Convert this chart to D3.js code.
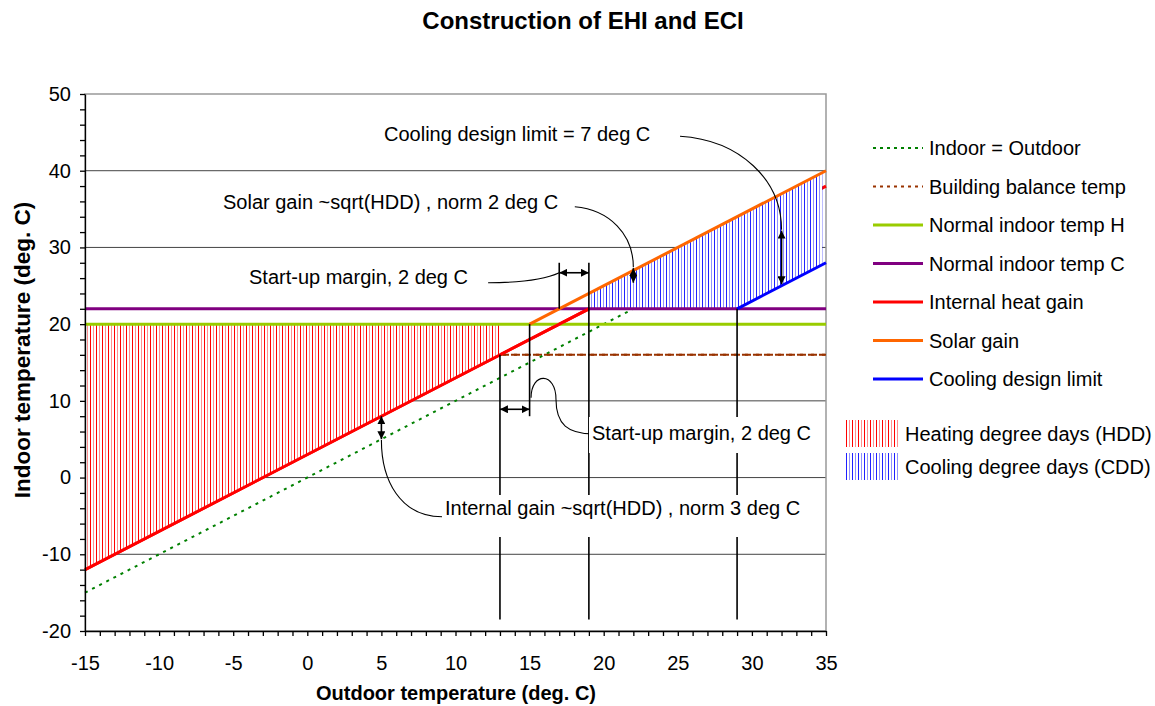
<!DOCTYPE html>
<html>
<head>
<meta charset="utf-8">
<script src="https://cdn.jsdelivr.net/npm/d3@7"></script>
<style>
  body { margin: 0; background: #fff; }
  svg { display: block; }
  text { font-family: "Liberation Sans", Arial, sans-serif; fill: #000; }
</style>
</head>
<body>
<svg id="chart" width="1155" height="706"></svg>
<script>
// ---- tick labels ----
const xTickLabels = [-15, -10, -5, 0, 5, 10, 15, 20, 25, 30, 35];
const yTickLabels = [-20, -10, 0, 10, 20, 30, 40, 50];

// ---- line series: outdoor temperature -> indoor temperature (deg C) ----
const identityX = [-15, 22],      identityY = [-15, 22];      // Indoor = Outdoor
const balanceX  = [-15, 35],      balanceY  = [16, 16];       // Building balance temp
const heatNormX = [-15, 35],      heatNormY = [20, 20];       // Normal indoor temp H
const coolNormX = [-15, 35],      coolNormY = [22, 22];       // Normal indoor temp C
const internalX = [-15, 19, 35],  internalY = [-12, 22, 38];  // Internal heat gain
const solarX    = [15, 35],       solarY    = [20, 40];       // Solar gain
const limitX    = [29, 35],       limitY    = [22, 28];       // Cooling design limit

// ---- hatched degree-day areas ----
const hddX = [-15, 13],          hddTop = [20, 20],          hddBottom = [-12, 16];
const cddX = [19, 29, 34.75],    cddTop = [24, 34, 39.75],   cddBottom = [22, 22, 27.75];

// ---- vertical guide lines ----
const guideX    = [13, 15, 17, 19, 29];
const guideFrom = [16, 20, 28, 28, 22];
const guideTo   = [-18.5, 8, 22, -18.5, -18.5];

// ---- dimension arrows (double headed) ----
const arrowX1 = [17, 13, 5, 22, 32];
const arrowY1 = [26.7, 8.9, 8, 27.3, 32.2];
const arrowX2 = [19, 15, 5, 22, 32];
const arrowY2 = [26.7, 8.9, 5, 25.4, 25.2];

// ---- leader curves (cubic segments, data units) ----
const leaders = [
  [[25.15, 44.5], [29.2, 44.0], [32.0, 38.8], [32.0, 32.3]],
  [[18.05, 35.3], [20.4, 34.9], [22.0, 31.7], [22.0, 27.4]],
  [[12.2, 25.4], [14.35, 25.4], [16.0, 25.8], [17.0, 26.7]],
  [[15.1, 10.4], [15.1, 13.8], [16.78, 13.8], [16.78, 10.2], [16.78, 6.9], [17.6, 5.7], [19.3, 5.7]],
  [[5.0, 4.9], [5.0, -0.3], [6.25, -5.1], [9.1, -5.1]]
];

// ---- legend ----
const legendNames  = ["Indoor = Outdoor", "Building balance temp", "Normal indoor temp H",
                      "Normal indoor temp C", "Internal heat gain", "Solar gain", "Cooling design limit"];
const legendColors = ["#008000", "#993300", "#99CC00", "#800080", "#FF0000", "#FF6600", "#0000FF"];
const legendDash   = ["3,4", "3,4", null, null, null, null, null];
const areaNames    = ["Heating degree days (HDD)", "Cooling degree days (CDD)"];

const svg = d3.select("#chart");
const x = d3.scaleLinear().domain([-15, 35]).range([85, 826]);
const y = d3.scaleLinear().domain([-20, 50]).range([631, 94]);

const defs = svg.append("defs");
function hatch(id, c1, c2) {
  const p = defs.append("pattern").attr("id", id)
    .attr("patternUnits", "userSpaceOnUse").attr("width", 6).attr("height", 6);
  p.append("rect").attr("width", 6).attr("height", 6).attr("fill", "#fff");
  p.append("rect").attr("x", 0).attr("width", 1).attr("height", 6).attr("fill", c1);
  p.append("rect").attr("x", 3).attr("width", 1).attr("height", 6).attr("fill", c2);
}
hatch("hatchHDD", "#FF0000", "#FF9090");
hatch("hatchCDD", "#2020FF", "#9090FF");

defs.append("marker").attr("id", "arrowHead")
  .attr("viewBox", "0 0 10 10").attr("refX", 10).attr("refY", 5)
  .attr("markerWidth", 8).attr("markerHeight", 8)
  .attr("markerUnits", "userSpaceOnUse").attr("orient", "auto-start-reverse")
  .append("path").attr("d", "M0,0L10,5L0,10z").attr("fill", "#000");

// title
svg.append("text").attr("x", 583).attr("y", 29).attr("text-anchor", "middle")
  .style("font-size", "24px").style("font-weight", "bold").text("Construction of EHI and ECI");

// gridlines
svg.append("g").selectAll("line").data(yTickLabels.filter(v => v > -20 && v < 50)).join("line")
  .attr("x1", x(-15)).attr("x2", x(35)).attr("y1", d => y(d)).attr("y2", d => y(d))
  .attr("stroke", "#444").attr("stroke-width", 1);

// plot border
svg.append("rect").attr("x", x(-15)).attr("y", y(50))
  .attr("width", x(35) - x(-15)).attr("height", y(-20) - y(50))
  .attr("fill", "none").attr("stroke", "#999").attr("stroke-width", 1.5);

const lineOf = (xs, ys) => d3.line().x((d, i) => x(xs[i])).y((d, i) => y(ys[i]))(xs);

// series lying underneath the hatched areas
const under = svg.append("g");
under.append("path").attr("d", lineOf(balanceX, balanceY)).attr("fill", "none")
  .attr("stroke", "#993300").attr("stroke-width", 2).attr("stroke-dasharray", "6,5");
under.append("path").attr("d", lineOf(internalX, internalY)).attr("fill", "none")
  .attr("stroke", "#FF0000").attr("stroke-width", 3);

// hatched areas
const areaOf = (xs, y0s, y1s) => d3.area()
  .x((d, i) => x(xs[i])).y0((d, i) => y(y0s[i])).y1((d, i) => y(y1s[i]))(xs);
svg.append("path").attr("d", areaOf(hddX, hddBottom, hddTop)).attr("fill", "url(#hatchHDD)");
svg.append("path").attr("d", areaOf(cddX, cddBottom, cddTop)).attr("fill", "url(#hatchCDD)");

// series on top
const lines = svg.append("g").attr("fill", "none");
lines.append("path").attr("d", lineOf(identityX, identityY))
  .attr("stroke", "#008000").attr("stroke-width", 2).attr("stroke-dasharray", "3,5");
lines.append("path").attr("d", lineOf(balanceX.map(v => Math.max(v, hddX[1])), balanceY))
  .attr("stroke", "#993300").attr("stroke-width", 2).attr("stroke-dasharray", "6,5");
lines.append("path").attr("d", lineOf(heatNormX, heatNormY))
  .attr("stroke", "#99CC00").attr("stroke-width", 3);
lines.append("path").attr("d", lineOf(coolNormX, coolNormY))
  .attr("stroke", "#800080").attr("stroke-width", 3);
lines.append("path").attr("d", lineOf(internalX.slice(0, 2), internalY.slice(0, 2)))
  .attr("stroke", "#FF0000").attr("stroke-width", 3);
lines.append("path").attr("d", lineOf(solarX, solarY))
  .attr("stroke", "#FF6600").attr("stroke-width", 3);
lines.append("path").attr("d", lineOf(limitX, limitY))
  .attr("stroke", "#0000FF").attr("stroke-width", 3);

// axes
const yAxis = svg.append("g").attr("transform", `translate(${x(-15)},0)`)
  .call(d3.axisLeft(y).tickValues(d3.range(-20, 51, 2)).tickSize(5).tickSizeOuter(0).tickPadding(9)
    .tickFormat(d => yTickLabels.includes(d) ? String(d) : ""));
const xAxis = svg.append("g").attr("transform", `translate(0,${y(-20)})`)
  .call(d3.axisBottom(x).tickValues(d3.range(-15, 36, 1)).tickSize(5).tickSizeOuter(0).tickPadding(20)
    .tickFormat(d => xTickLabels.includes(d) ? String(d) : ""));
[xAxis, yAxis].forEach(g => {
  g.attr("font-family", null).attr("font-size", null);
  g.selectAll("text").style("font-size", "20px");
  g.selectAll("line, path").attr("stroke", "#000").attr("stroke-width", 1.3);
});

// axis titles
svg.append("text").attr("x", 456).attr("y", 700).attr("text-anchor", "middle")
  .style("font-size", "20px").style("font-weight", "bold").text("Outdoor temperature (deg. C)");
svg.append("text").attr("transform", "translate(30,350) rotate(-90)").attr("text-anchor", "middle")
  .style("font-size", "22.5px").style("font-weight", "bold").text("Indoor temperature (deg. C)");

// guide lines
svg.append("g").selectAll("line").data(guideX).join("line")
  .attr("x1", d => x(d)).attr("x2", d => x(d))
  .attr("y1", (d, i) => y(guideFrom[i])).attr("y2", (d, i) => y(guideTo[i]))
  .attr("stroke", "#000").attr("stroke-width", 1.6);

// leader curves
const leaderPath = pts => {
  const p = pts.map(([a, b]) => [x(a), y(b)]);
  let s = `M${p[0]}`;
  for (let i = 1; i + 2 < p.length; i += 3) s += `C${p[i]} ${p[i + 1]} ${p[i + 2]}`;
  return s;
};
svg.append("g").selectAll("path").data(leaders).join("path")
  .attr("d", leaderPath).attr("fill", "none").attr("stroke", "#000").attr("stroke-width", 1.1);

// dimension arrows
svg.append("g").selectAll("line").data(arrowX1).join("line")
  .attr("x1", d => x(d)).attr("y1", (d, i) => y(arrowY1[i]))
  .attr("x2", (d, i) => x(arrowX2[i])).attr("y2", (d, i) => y(arrowY2[i]))
  .attr("stroke", "#000").attr("stroke-width", 1.6)
  .attr("marker-start", "url(#arrowHead)").attr("marker-end", "url(#arrowHead)");

// annotation labels
const notes = [
  { t: "Cooling design limit = 7 deg C", x: 384, y: 141 },
  { t: "Solar gain ~sqrt(HDD) , norm 2 deg C", x: 223, y: 209 },
  { t: "Start-up margin, 2 deg C", x: 249, y: 284 },
  { t: "Start-up margin, 2 deg C", x: 592, y: 440, box: [589, 417, 233, 36] },
  { t: "Internal gain ~sqrt(HDD) , norm 3 deg C", x: 445, y: 515, box: [442, 495, 366, 42] }
];
const ng = svg.append("g");
notes.forEach(n => {
  if (n.box) ng.append("rect").attr("x", n.box[0]).attr("y", n.box[1])
    .attr("width", n.box[2]).attr("height", n.box[3]).attr("fill", "#fff");
  ng.append("text").attr("x", n.x).attr("y", n.y).style("font-size", "20px").text(n.t);
});

// legend
const lg = svg.append("g");
legendNames.forEach((name, i) => {
  const cy = 148 + i * 38.5;
  lg.append("line").attr("x1", 873).attr("x2", 923).attr("y1", cy).attr("y2", cy)
    .attr("stroke", legendColors[i]).attr("stroke-width", legendDash[i] ? 2 : 3)
    .attr("stroke-dasharray", legendDash[i]);
  lg.append("text").attr("x", 929).attr("y", cy + 7).style("font-size", "20px").text(name);
});
areaNames.forEach((name, i) => {
  const top = 420 + i * 33;
  lg.append("rect").attr("x", 844).attr("y", top).attr("width", 56).attr("height", 27)
    .attr("fill", i === 0 ? "url(#hatchHDD)" : "url(#hatchCDD)");
  lg.append("text").attr("x", 905).attr("y", top + 21).style("font-size", "20px").text(name);
});
</script>
</body>
</html>
